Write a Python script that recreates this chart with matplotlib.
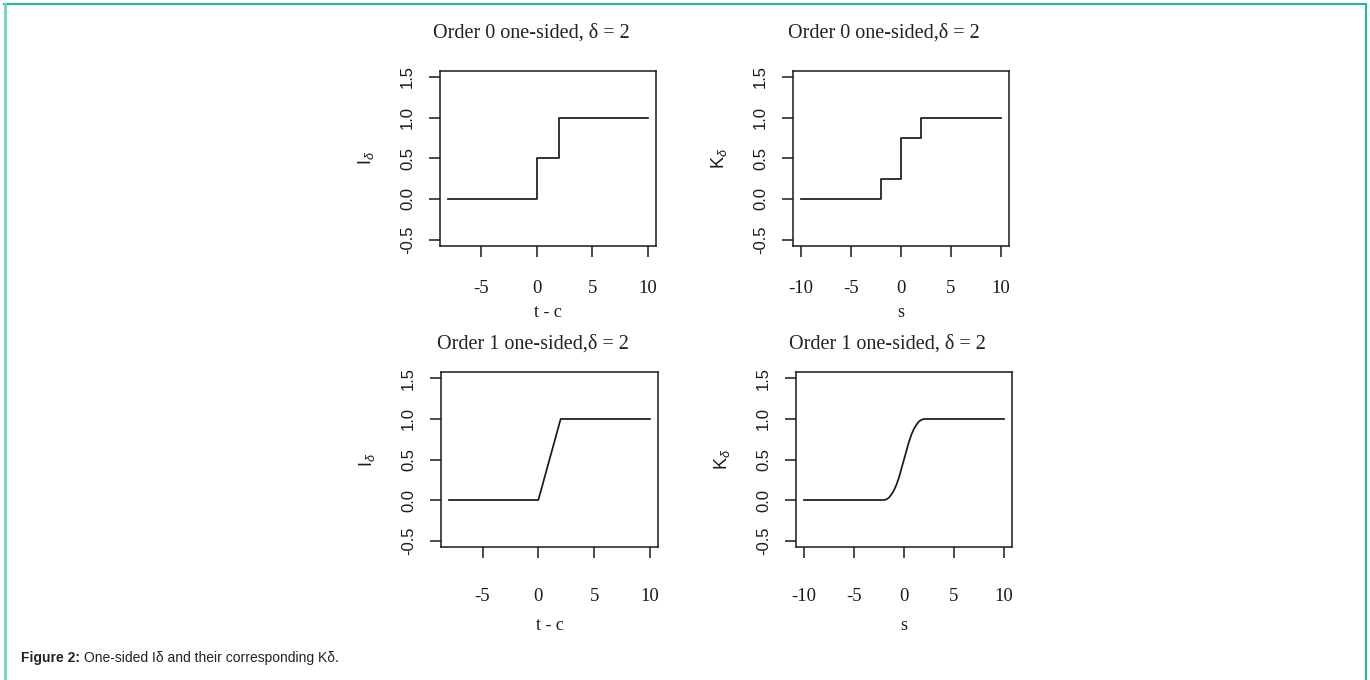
import matplotlib
matplotlib.use('Agg')
import matplotlib.pyplot as plt
from matplotlib.lines import Line2D

# data
tl_x = [-8, 0, 2, 10]
tl_y = [0, 0.5, 1, 1]
tr_x = [-10, -2, 0, 2, 10]
tr_y = [0, 0.25, 0.75, 1, 1]
bl_x = [-8, 0, 2, 10]
bl_y = [0, 0, 1, 1]
br_x = [-10, -2, -1.75, -1.5, -1.25, -1, -0.75, -0.5, -0.25, 0,
        0.25, 0.5, 0.75, 1, 1.25, 1.5, 1.75, 2, 10]
br_y = [0, 0, 0.008, 0.03, 0.07, 0.12, 0.19, 0.28, 0.39, 0.5,
        0.61, 0.72, 0.81, 0.88, 0.93, 0.97, 0.99, 1, 1]

titles = ['Order 0 one-sided, δ = 2', 'Order 0 one-sided,δ = 2',
          'Order 1 one-sided,δ = 2', 'Order 1 one-sided, δ = 2']
xlabels = ['t - c', 's', 't - c', 's']
ylabels = [r'$\mathrm{I}_{\delta}$', r'$\mathrm{K}_{\delta}$',
           r'$\mathrm{I}_{\delta}$', r'$\mathrm{K}_{\delta}$']
xticks_short = [-5, 0, 5, 10]
xticks_long = [-10, -5, 0, 5, 10]
yticks = [-0.5, 0.0, 0.5, 1.0, 1.5]
ytick_labels = ['-0.5', '0.0', '0.5', '1.0', '1.5']

plt.rcParams['axes.unicode_minus'] = False
plt.rcParams['mathtext.fontset'] = 'custom'
plt.rcParams['mathtext.rm'] = 'Liberation Sans'
plt.rcParams['mathtext.it'] = 'Liberation Sans:italic'

W, H = 1370, 680
fig = plt.figure(figsize=(W / 100, H / 100), dpi=100)


def px_axes(l, r, t, b):
    return fig.add_axes([l / W, 1 - b / H, (r - l) / W, (b - t) / H])


# (left, right, top, bottom) in pixels
boxes = [(440, 656, 70.5, 246), (793, 1008.5, 70.5, 246),
         (441, 658, 372, 547), (796, 1012, 372, 547)]
series = [(tl_x, tl_y, 'steps-post'), (tr_x, tr_y, 'steps-post'),
          (bl_x, bl_y, 'default'), (br_x, br_y, 'default')]
xlims = [(-8.72, 10.72), (-10.8, 10.8), (-8.72, 10.72), (-10.8, 10.8)]
xticks = [xticks_short, xticks_long, xticks_short, xticks_long]
title_pad = [24, 24, 17, 17]
xtick_pad = [16.5, 16.5, 21.5, 21.5]
xlabel_y = [-0.405, -0.405, -0.474, -0.474]

serif = 'Liberation Serif'
sans = 'Liberation Sans'
ink = '#1a1a1a'

for i in range(4):
    l, r, t, b = boxes[i]
    ax = px_axes(l, r, t, b)
    x, y, ds = series[i]
    ax.plot(x, y, color=ink, lw=1.25, drawstyle=ds)
    ax.set_xlim(*xlims[i])
    ax.set_ylim(-0.58, 1.58)
    for sp in ax.spines.values():
        sp.set_linewidth(1.1)
        sp.set_color(ink)
    ax.set_xticks(xticks[i])
    ax.set_xticklabels([str(v) for v in xticks[i]], fontfamily=serif, fontsize=13.5)
    ax.set_yticks(yticks)
    ax.set_yticklabels(ytick_labels, fontfamily=sans, fontsize=12, rotation=90, va='center')
    ax.tick_params(axis='x', direction='out', length=8, width=1.1, pad=xtick_pad[i], colors=ink)
    ax.tick_params(axis='y', direction='out', length=8, width=1.1, pad=10, colors=ink)
    ax.set_title(titles[i], fontfamily=serif, fontsize=14.5, x=0.5 - 17 / (r - l),
                 pad=title_pad[i], color='#222222')
    ax.set_xlabel(xlabels[i], fontfamily=serif, fontsize=13, va='baseline', color=ink)
    ax.xaxis.set_label_coords(0.5, xlabel_y[i])
    ax.set_ylabel(ylabels[i], fontsize=13, va='center', color=ink)
    ax.yaxis.set_label_coords(-74 / (r - l), 0.5)

# teal frame around the figure
teal = '#1db89e'
fig.add_artist(Line2D([4 / W, 1366 / W], [1 - 4 / H, 1 - 4 / H], color=teal, lw=1.5))
fig.add_artist(Line2D([5 / W, 5 / W], [0, 1 - 4 / H], color='#6fd3c2', lw=2.0))
fig.add_artist(Line2D([1365.5 / W, 1365.5 / W], [0, 1 - 4 / H], color=teal, lw=1.5))

# caption
cap = fig.text(21 / W, 1 - 662 / H, 'Figure 2:', fontfamily=sans, fontsize=10,
               fontweight='bold', color='#222222', va='baseline')
fig.canvas.draw()
bb = cap.get_window_extent()
fig.text(bb.x1 / W + 3.5 / W, 1 - 662 / H, 'One-sided Iδ and their corresponding Kδ.',
         fontfamily=sans, fontsize=10, color='#222222', va='baseline')

fig.savefig('out.png', dpi=100)
